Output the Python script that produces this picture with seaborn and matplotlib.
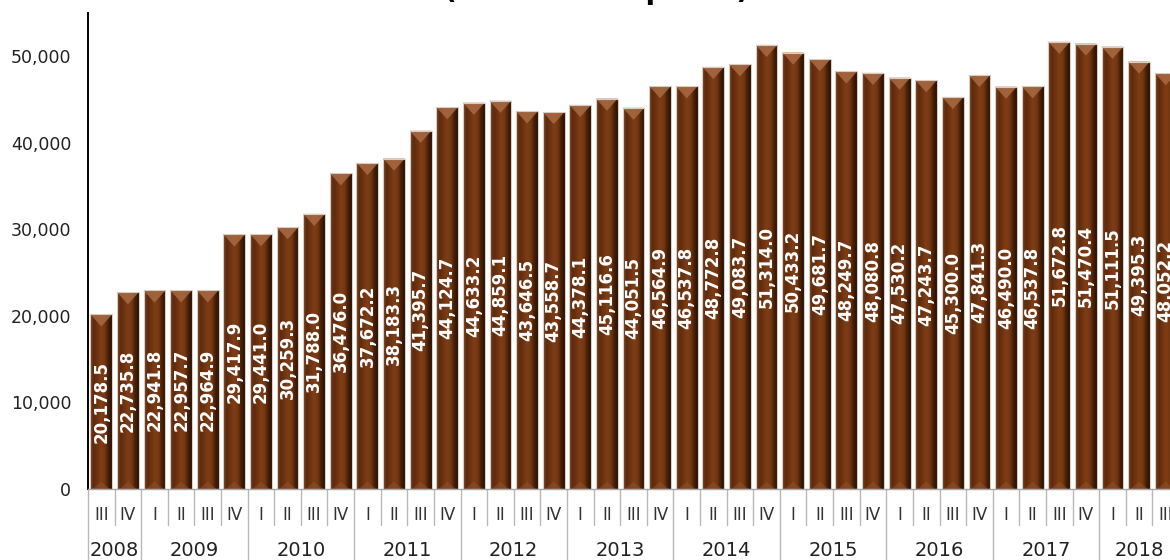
import numpy as np
import pandas as pd
import seaborn as sns
import matplotlib.pyplot as plt
from matplotlib.colors import LinearSegmentedColormap
from matplotlib.patches import Polygon
from matplotlib.ticker import FuncFormatter
import matplotlib.transforms as mtransforms

sns.set_style('white')
plt.rcParams['font.family'] = ['DejaVu Sans']

# quarterly series, 2008-III .. 2018-III
years = [2008] * 2 + [y for y in range(2009, 2018) for _ in range(4)] + [2018] * 3
quarters = ['III', 'IV'] + ['I', 'II', 'III', 'IV'] * 9 + ['I', 'II', 'III']
values = [20178.5, 22735.8, 22941.8, 22957.7, 22964.9, 29417.9, 29441.0, 30259.3,
          31788.0, 36476.0, 37672.2, 38183.3, 41395.7, 44124.7, 44633.2, 44859.1,
          43646.5, 43558.7, 44378.1, 45116.6, 44051.5, 46564.9, 46537.8, 48772.8,
          49083.7, 51314.0, 50433.2, 49681.7, 48249.7, 48080.8, 47530.2, 47243.7,
          45300.0, 47841.3, 46490.0, 46537.8, 51672.8, 51470.4, 51111.5, 49395.3,
          48052.2]
title = "(Millones de pesos)"

df = pd.DataFrame({'idx': np.arange(len(values)), 'year': years,
                   'quarter': quarters, 'value': values})

fig = plt.figure(figsize=(11.7, 5.6), dpi=100)
ax = fig.add_axes([88 / 1170, 71 / 560, 1091 / 1170, 476 / 560])

sns.barplot(data=df, x='idx', y='value', color='#6b3312', width=0.82,
            edgecolor='#d8cdc4', linewidth=0.8, ax=ax, zorder=2)

ymax = 55000
ax.set_ylim(0, ymax)
ax.set_xlim(-0.5, len(values) - 0.5)

# cylinder-like shading on each bar
shade = LinearSegmentedColormap.from_list(
    'shade', ['#7a4424', '#5e2a0c', '#6e3310', '#7e3e16', '#753812',
              '#4a2008', '#241004'])
grad = np.linspace(0, 1, 64).reshape(1, -1)
bevel = 1400
for p in ax.patches:
    x0, w, h = p.get_x(), p.get_width(), p.get_height()
    im = ax.imshow(grad, extent=[x0, x0 + w, 0, h], aspect='auto', cmap=shade,
                   zorder=2.1)
    im.set_clip_path(p)
    ax.add_patch(Polygon([(x0, h), (x0 + w, h), (x0 + w / 2, h - bevel)],
                         closed=True, facecolor='#a86a42', edgecolor='none',
                         alpha=0.85, zorder=2.2))
    ax.add_patch(Polygon([(x0 + w * 0.1, 0), (x0 + w * 0.9, 0),
                          (x0 + w / 2, bevel * 0.6)],
                         closed=True, facecolor='#8e522c', edgecolor='none',
                         alpha=0.55, zorder=2.2))
    p.set_facecolor('none')
    p.set_zorder(2.3)

ax.set_ylim(0, ymax)
ax.set_xlim(-0.5, len(values) - 0.5)

for i, v in enumerate(values):
    ax.text(i, v / 2, f"{v:,.1f}", rotation=90, ha='center', va='center',
            color='white', fontweight='bold', fontsize=12, zorder=3)

ax.set_yticks(np.arange(0, 50001, 10000))
ax.yaxis.set_major_formatter(FuncFormatter(lambda v, _: f"{v:,.0f}"))
ax.tick_params(axis='y', direction='out', length=6, width=1.2, color='black',
               labelsize=12.5, labelcolor='#222222', pad=6)
ax.set_xticks(df['idx'])
ax.set_xticklabels(quarters)
ax.tick_params(axis='x', length=0, labelsize=12, labelcolor='#333333', pad=12)
ax.set_xlabel('')
ax.set_ylabel('')

sns.despine(ax=ax, top=True, right=True)
ax.spines['left'].set_color('black')
ax.spines['left'].set_linewidth(1.4)
ax.spines['bottom'].set_color('#a8a8a8')
ax.spines['bottom'].set_linewidth(1.0)

# separators and year labels under the axis
trans = mtransforms.blended_transform_factory(ax.transData, ax.transAxes)
px = 1 / 476
year_bounds = []
for i in range(len(values) + 1):
    new_year = i == 0 or i == len(values) or years[i] != years[i - 1]
    y_end = -75 * px if new_year else -36 * px
    ax.plot([i - 0.5, i - 0.5], [0, y_end], color='#b8b8b8', lw=1.0,
            transform=trans, clip_on=False)
    if new_year:
        year_bounds.append(i)

for a, b in zip(year_bounds[:-1], year_bounds[1:]):
    ax.text((a + b - 1) / 2, -62 * px, str(years[a]), ha='center', va='center',
            fontsize=14, color='#222222', transform=trans)

fig.text(0.51, 1 + 1 / 560, title, ha='center', va='baseline',
         fontsize=20, fontweight='bold', color='black')

fig.savefig('out.png', dpi=100)
